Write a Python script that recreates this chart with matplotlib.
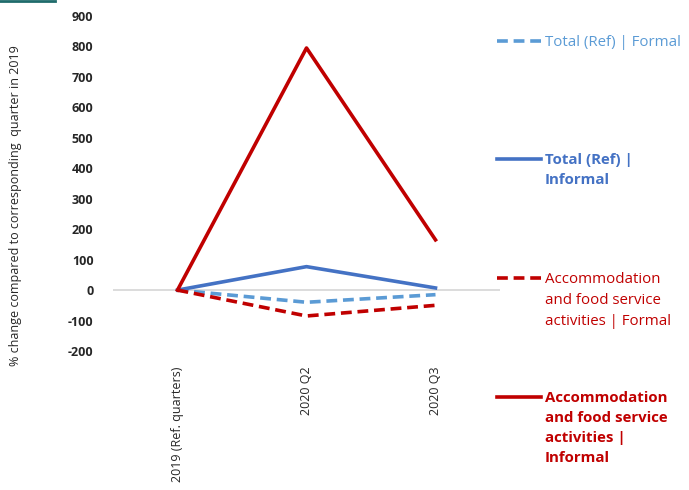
import matplotlib
matplotlib.use("Agg")
import matplotlib.pyplot as plt
from matplotlib.lines import Line2D

plt.rcParams['font.family'] = ['Open Sans', 'DejaVu Sans']

categories = ["2019 (Ref. quarters)", "2020 Q2", "2020 Q3"]
total_formal = [0, -40, -15]
total_informal = [0, 77, 7]
accom_formal = [0, -85, -50]
accom_informal = [0, 795, 165]

series = [
    ("Total (Ref) | Formal", total_formal, "#5B9BD5", "--", "normal"),
    ("Total (Ref) |\nInformal", total_informal, "#4472C4", "-", "bold"),
    ("Accommodation\nand food service\nactivities | Formal", accom_formal, "#C00000", "--", "normal"),
    ("Accommodation\nand food service\nactivities |\nInformal", accom_informal, "#C00000", "-", "bold"),
]
yticks = list(range(-200, 1000, 100))
ylabel = "% change compared to corresponding  quarter in 2019"

W, H = 689, 490
fig = plt.figure(figsize=(W / 100, H / 100), dpi=100)
ax = fig.add_axes([113 / W, 1 - 351 / H, (500 - 113) / W, (351 - 16) / H])

x = list(range(len(categories)))
for name, vals, col, ls, fw in series:
    ax.plot(x, vals, color=col, linestyle=ls, linewidth=2.6,
            dashes=(3, 1.6) if ls == "--" else (None, None), zorder=3)

ax.axhline(0, color="#D9D9D9", linewidth=1.3, zorder=1)
ax.set_xlim(-0.5, 2.5)
ax.set_ylim(-200, 900)
ax.set_yticks(yticks)
ax.set_yticklabels([str(v) for v in yticks], fontweight="bold", fontsize=9, color="#262626")
ax.set_xticks(x)
ax.set_xticklabels(categories, rotation=90, fontsize=9, color="#262626", va="top")
ax.tick_params(axis="x", length=0, pad=11)
ax.tick_params(axis="y", length=0, pad=14)
for s in ax.spines.values():
    s.set_visible(False)
fig.text(16 / W, 1 - 206 / H, ylabel, rotation=90, fontsize=9, color="#262626",
         ha="center", va="center")

# legend entries on the right
legend_y = [41, 159, 278, 397]
for (name, vals, col, ls, fw), yy in zip(series, legend_y):
    yf = 1 - yy / H
    ln = Line2D([497 / W, 541 / W], [yf, yf], transform=fig.transFigure, color=col,
                linewidth=2.6, linestyle=ls)
    if ls == "--":
        ln.set_dashes((3, 1.6))
    fig.add_artist(ln)
    fig.text(545 / W, yf + 6 / H, name, color=col, fontsize=10.8, fontweight=fw,
             va="top", ha="left", linespacing=1.55)

# small decorative line top-left
fig.add_artist(Line2D([0, 55 / W], [1 - 1.5 / H, 1 - 1.5 / H], transform=fig.transFigure,
                      color="#1F6B6B", linewidth=2))

fig.savefig("out.png", dpi=100)
